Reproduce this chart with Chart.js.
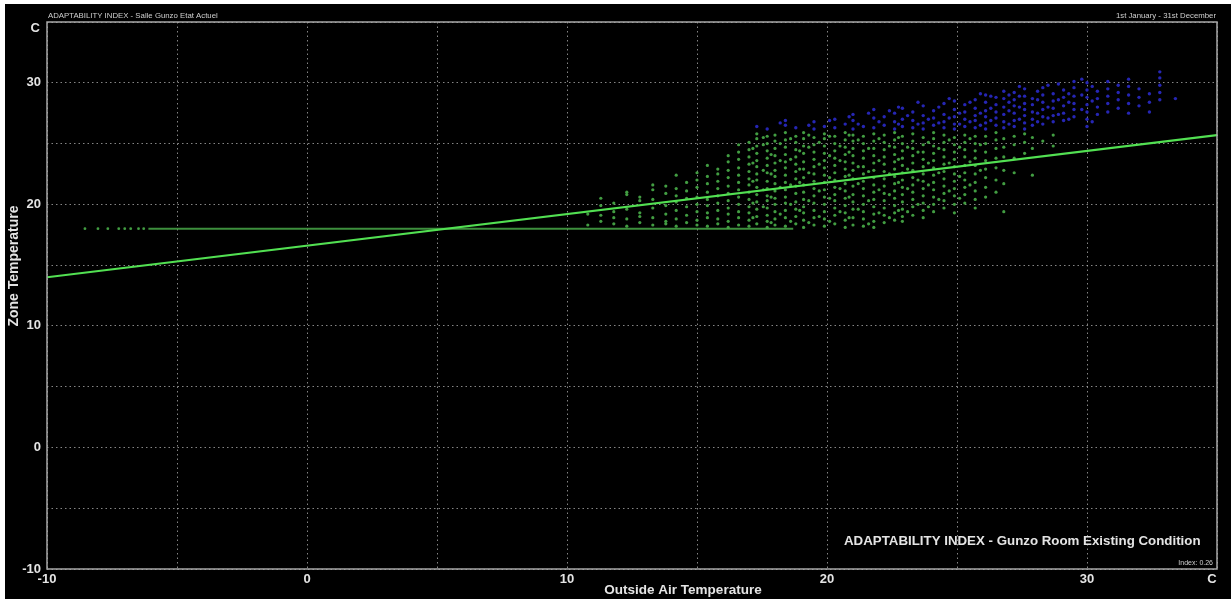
<!DOCTYPE html>
<html>
<head>
<meta charset="utf-8">
<script src="https://cdn.jsdelivr.net/npm/chart.js@4/dist/chart.umd.min.js"></script>
<style>
  html, body { margin: 0; padding: 0; background: #fff; }
  #wrap { position: absolute; left: 5px; top: 4px; width: 1226px; height: 595px; background: #000; }
</style>
</head>
<body>
<div id="wrap"><canvas id="chart"></canvas></div>
<script>
// axis ranges and tick labels
const xMin = -10, xMax = 35;
const yMin = -10, yMax = 35;
const tickStep = 5;
const labelStep = 10;
const axisUnit = 'C';

// texts
const chartTitle = 'ADAPTABILITY INDEX - Salle Gunzo Etat Actuel';
const period = '1st January - 31st December';
const caption = 'ADAPTABILITY INDEX - Gunzo Room Existing Condition';
const indexText = 'Index: 0.26';
const xTitle = 'Outside Air Temperature';
const yTitle = 'Zone Temperature';

// regression line (ends)
const regX = [-10, 35];
const regY = [14.0, 25.7];

// heating floor at 18 C: sparse cold points, then a continuous run
const floorY = 18;
const floorDotsX = [-8.54, -8.04, -7.66, -7.24, -7.01, -6.78, -6.48, -6.28];
const floorRunX = [-6.1, 18.7];

// green points (zone temp up to ~26), by outside temp column: [x, [y...]]
const greenCols = [
  [10.8, [18.3, 19.2]],
  [11.3, [18.6, 19.9, 20.5, 19.1]],
  [11.8, [18.4, 19.4, 20.1, 18.9]],
  [12.3, [18.2, 18.8, 19.6, 20.8, 21.0]],
  [12.8, [18.5, 19.3, 20.3, 19.0, 20.6]],
  [13.3, [18.3, 18.9, 19.7, 20.4, 21.2, 21.6]],
  [13.8, [18.6, 19.2, 19.9, 20.9, 18.4, 21.5]],
  [14.2, [18.2, 18.8, 19.5, 20.2, 20.7, 21.3, 22.4]],
  [14.6, [18.5, 19.1, 19.8, 20.5, 21.1, 21.8]],
  [15.0, [18.3, 18.7, 19.4, 20.0, 20.6, 21.4, 22.0, 22.6]],
  [15.4, [18.2, 18.9, 19.3, 19.9, 20.4, 21.0, 21.7, 22.3, 23.2]],
  [15.8, [18.4, 18.8, 19.5, 20.1, 20.7, 21.3, 21.9, 22.5, 22.9]],
  [16.2, [18.1, 18.6, 19.2, 19.7, 20.3, 20.9, 21.5, 22.2, 22.8, 23.5, 24.0]],
  [16.6, [18.3, 18.9, 19.4, 20.0, 20.6, 21.2, 21.8, 22.4, 23.0, 23.7, 24.3, 24.9]],
  [17.0, [18.2, 18.7, 19.3, 19.8, 20.4, 21.0, 21.6, 22.1, 22.7, 23.3, 23.9, 24.5, 25.1]],
  [17.15, [18.9, 20.1, 21.9, 23.4, 24.6]],
  [17.3, [18.4, 19.0, 19.6, 20.2, 20.8, 21.4, 22.0, 22.5, 23.1, 23.6, 24.2, 24.8, 25.4, 25.8]],
  [17.55, [19.8, 21.2, 22.8, 24.9, 25.5]],
  [17.7, [18.1, 18.6, 19.1, 19.7, 20.3, 20.7, 21.3, 21.9, 22.6, 23.2, 23.8, 24.4, 25.0, 25.6]],
  [17.85, [18.5, 20.6, 22.5, 24.1]],
  [18.0, [18.3, 18.8, 19.4, 20.0, 20.5, 21.1, 21.7, 22.3, 22.8, 23.4, 24.0, 24.6, 25.2, 25.7]],
  [18.2, [19.2, 21.4, 23.6, 25.0]],
  [18.4, [18.2, 18.9, 19.5, 20.1, 20.6, 21.2, 21.8, 22.4, 23.0, 23.5, 24.1, 24.7, 25.3, 25.9]],
  [18.6, [18.6, 20.0, 21.6, 23.7, 25.4]],
  [18.8, [18.4, 19.0, 19.6, 20.2, 20.9, 21.5, 22.1, 22.7, 23.3, 23.9, 24.5, 25.1, 25.6]],
  [18.95, [19.5, 21.8, 22.9, 24.4]],
  [19.1, [18.1, 18.7, 19.3, 19.8, 20.4, 21.0, 21.6, 22.2, 22.9, 23.5, 24.2, 24.8, 25.4, 25.9]],
  [19.3, [18.5, 20.3, 22.6, 24.7, 25.7]],
  [19.5, [18.3, 18.9, 19.5, 20.1, 20.7, 21.3, 21.9, 22.5, 23.1, 23.7, 24.3, 24.9, 25.5]],
  [19.7, [19.0, 21.1, 23.3, 25.1]],
  [19.9, [18.2, 18.8, 19.4, 20.0, 20.6, 21.2, 21.8, 22.4, 23.0, 23.6, 24.2, 24.8, 25.4, 25.8]],
  [20.1, [18.6, 20.5, 22.2, 24.0, 25.6]],
  [20.3, [18.4, 19.1, 19.7, 20.3, 20.8, 21.4, 22.0, 22.6, 23.2, 23.8, 24.4, 25.0, 25.6]],
  [20.5, [19.4, 21.3, 23.6, 24.8]],
  [20.7, [18.1, 18.7, 19.3, 19.9, 20.5, 21.1, 21.7, 22.3, 22.9, 23.5, 24.1, 24.7, 25.3, 25.9]],
  [20.85, [18.9, 20.6, 22.4, 24.3, 25.7]],
  [21.0, [18.3, 18.9, 19.6, 20.2, 20.8, 21.5, 22.1, 22.8, 23.4, 24.0, 24.6, 25.2, 25.7]],
  [21.2, [19.6, 21.7, 23.1, 25.3]],
  [21.4, [18.2, 18.8, 19.4, 20.0, 20.7, 21.3, 21.9, 22.5, 23.1, 23.8, 24.4, 25.0, 25.6]],
  [21.6, [18.4, 20.3, 22.7, 24.6]],
  [21.8, [18.1, 18.6, 19.2, 19.8, 20.4, 21.0, 21.6, 22.2, 22.8, 23.4, 24.0, 24.6, 25.2, 25.8]],
  [22.0, [19.3, 21.2, 23.6, 25.4]],
  [22.2, [18.5, 19.1, 19.7, 20.3, 20.9, 21.5, 22.1, 22.7, 23.3, 23.9, 24.5, 25.1, 25.7]],
  [22.4, [18.9, 20.8, 22.5, 24.8]],
  [22.6, [18.7, 19.3, 19.9, 20.5, 21.1, 21.7, 22.3, 22.9, 23.5, 24.1, 24.7, 25.3, 25.9]],
  [22.75, [19.5, 21.8, 23.7, 25.5]],
  [22.9, [18.6, 19.0, 19.6, 20.2, 20.8, 21.4, 22.0, 22.6, 23.2, 23.8, 24.4, 25.0, 25.6]],
  [23.1, [19.4, 21.3, 22.9, 24.7]],
  [23.3, [19.1, 19.8, 20.4, 21.0, 21.6, 22.2, 22.8, 23.4, 24.0, 24.6, 25.2, 25.8]],
  [23.5, [20.0, 22.0, 24.3]],
  [23.7, [18.9, 19.5, 20.1, 20.7, 21.3, 21.9, 22.5, 23.1, 23.7, 24.3, 24.9, 25.5]],
  [23.9, [19.8, 21.6, 23.4, 25.1]],
  [24.1, [19.4, 20.0, 20.6, 21.2, 21.8, 22.4, 23.0, 23.6, 24.2, 24.8, 25.4, 25.9]],
  [24.3, [20.4, 22.6, 24.6]],
  [24.5, [19.7, 20.3, 20.9, 21.5, 22.1, 22.7, 23.3, 23.9, 24.5, 25.1, 25.7]],
  [24.7, [21.1, 23.4, 25.3]],
  [24.9, [19.3, 20.0, 20.7, 21.3, 21.9, 22.5, 23.1, 23.7, 24.3, 24.9, 25.5]],
  [25.1, [20.5, 22.3, 24.7]],
  [25.3, [20.1, 20.8, 21.4, 22.0, 22.6, 23.2, 23.9, 24.5, 25.1, 25.7]],
  [25.5, [21.6, 23.5, 25.4]],
  [25.7, [19.7, 20.4, 21.1, 21.8, 22.5, 23.2, 23.8, 24.4, 25.0, 25.6]],
  [25.9, [22.8, 24.9]],
  [26.1, [20.6, 21.4, 22.2, 22.9, 23.6, 24.3, 25.0, 25.6]],
  [26.5, [21.0, 22.0, 23.0, 23.8, 24.6, 25.3, 25.9]],
  [26.8, [19.4, 21.7, 22.8, 23.9, 24.7, 25.4]],
  [27.2, [22.6, 23.8, 24.9, 25.6]],
  [27.6, [24.2, 25.1, 25.8]],
  [27.9, [22.4, 24.6, 25.5]],
  [28.3, [25.2]],
  [28.7, [24.8, 25.7]]
];

// blue points (zone temp above ~26): [x, [y...]]
const blueCols = [
  [17.3, [26.4]],
  [17.7, [26.2]],
  [18.2, [26.7]],
  [18.4, [26.5, 26.9]],
  [18.8, [26.3]],
  [19.3, [26.5]],
  [19.5, [26.2, 26.8]],
  [19.9, [26.4]],
  [20.1, [26.9]],
  [20.3, [26.3, 27.0]],
  [20.7, [26.6]],
  [20.85, [27.2]],
  [21.0, [26.2, 26.9, 27.4]],
  [21.2, [26.6]],
  [21.4, [26.4]],
  [21.6, [27.5]],
  [21.8, [26.3, 27.1, 27.8]],
  [22.0, [26.8]],
  [22.2, [26.5, 27.2]],
  [22.4, [27.7]],
  [22.6, [26.2, 26.8, 27.5]],
  [22.75, [26.6, 28.0]],
  [22.9, [26.4, 27.0, 27.9]],
  [23.1, [27.3]],
  [23.3, [26.3, 26.9, 27.6]],
  [23.5, [26.6, 28.4]],
  [23.7, [26.2, 26.7, 27.3, 28.1]],
  [23.9, [27.0]],
  [24.1, [26.5, 27.1, 27.7]],
  [24.3, [26.7, 28.0]],
  [24.5, [26.3, 26.8, 27.4, 28.3]],
  [24.7, [27.1, 28.7]],
  [24.9, [26.2, 26.6, 27.2, 27.8, 28.5]],
  [25.1, [26.6, 27.5]],
  [25.3, [26.4, 27.0, 27.6, 28.2]],
  [25.5, [26.8, 28.4]],
  [25.7, [26.3, 26.9, 27.3, 27.9, 28.6]],
  [25.9, [26.5, 27.5, 29.1]],
  [26.1, [26.2, 26.7, 27.2, 27.7, 28.4, 29.0]],
  [26.3, [26.9, 27.9, 28.9]],
  [26.5, [26.5, 27.1, 27.6, 28.2, 28.8]],
  [26.8, [26.3, 26.8, 27.4, 28.0, 28.7, 29.3]],
  [27.0, [26.6, 27.7, 28.4, 29.0]],
  [27.2, [26.4, 26.9, 27.5, 28.1, 28.6, 29.2]],
  [27.4, [27.0, 28.0, 28.9, 29.7]],
  [27.6, [26.2, 26.7, 27.3, 27.8, 28.3, 28.9, 29.5]],
  [27.9, [26.5, 27.0, 27.6, 28.2, 28.7]],
  [28.1, [26.8, 27.5, 28.6, 29.3]],
  [28.3, [26.6, 27.2, 27.8, 28.4, 29.0, 29.6]],
  [28.5, [27.1, 28.0, 29.8]],
  [28.7, [26.8, 27.3, 27.9, 28.5, 29.1]],
  [28.9, [27.4, 28.6, 29.9]],
  [29.1, [26.9, 27.5, 28.1, 28.8, 29.4]],
  [29.3, [27.0, 28.4, 29.1]],
  [29.5, [27.2, 27.8, 28.3, 28.9, 29.6, 30.1]],
  [29.8, [27.8, 29.0, 30.3]],
  [30.0, [26.4, 27.0, 27.6, 28.2, 28.8, 29.4, 30.0]],
  [30.2, [26.8, 28.5, 29.7]],
  [30.4, [27.4, 28.0, 28.7, 29.3]],
  [30.8, [27.6, 28.3, 28.9, 29.5, 30.1]],
  [31.2, [27.9, 28.6, 29.2, 29.8]],
  [31.6, [27.5, 28.3, 29.0, 29.7, 30.3]],
  [32.0, [28.1, 28.8, 29.5]],
  [32.4, [27.6, 28.4, 29.1]],
  [32.8, [28.6, 29.2, 29.8, 30.4, 30.9]],
  [33.4, [28.7]]
];

// colours
const textColor = '#e4e4e4';
const gridColor = 'rgba(190,190,190,0.7)';
const frameColor = '#a8a8a8';
const greenDot = 'rgba(70,165,70,0.95)';
const blueDot = '#2626b4';
const regColor = '#52e052';

function toPoints(cols) {
  const pts = [];
  cols.forEach(c => c[1].forEach(y => pts.push({ x: c[0], y: y })));
  return pts;
}

const font = 'Arial, "Liberation Sans", sans-serif';

// extra texts, frame and unit labels
const decor = {
  id: 'decor',
  afterDraw(chart) {
    const ctx = chart.ctx;
    const a = chart.chartArea;
    ctx.save();
    ctx.strokeStyle = frameColor;
    ctx.lineWidth = 1.5;
    ctx.strokeRect(a.left, a.top, a.right - a.left, a.bottom - a.top);

    ctx.fillStyle = '#cfcfcf';
    ctx.font = '7.8px ' + font;
    ctx.textBaseline = 'alphabetic';
    ctx.textAlign = 'left';
    ctx.fillText(chartTitle, a.left + 1, a.top - 4);
    ctx.textAlign = 'right';
    ctx.fillText(period, a.right - 1, a.top - 4);
    ctx.font = '7px ' + font;
    ctx.textBaseline = 'middle';
    ctx.fillText(indexText, a.right - 4, a.bottom - 6);

    ctx.fillStyle = textColor;
    ctx.font = 'bold 13.3px ' + font;
    ctx.textAlign = 'left';
    ctx.fillText(caption, 839, 537);

    ctx.font = 'bold 13.5px ' + font;
    ctx.textAlign = 'center';
    ctx.fillText(xTitle, 678, 586);
    ctx.font = 'bold 14px ' + font;
    ctx.save();
    ctx.translate(9, 262);
    ctx.rotate(-Math.PI / 2);
    ctx.fillText(yTitle, 0, 0);
    ctx.restore();

    ctx.font = 'bold 13px ' + font;
    ctx.textAlign = 'right';
    ctx.fillText(axisUnit, a.left - 7, a.top + 6);
    ctx.textAlign = 'center';
    ctx.fillText(axisUnit, a.right - 5, a.bottom + 10);
    ctx.restore();
  }
};

const tickLabel = v => (v % labelStep === 0 ? String(v) : '');

new Chart(document.getElementById('chart'), {
  type: 'scatter',
  data: {
    datasets: [
      {
        label: 'regression',
        data: regX.map((x, i) => ({ x: x, y: regY[i] })),
        showLine: true,
        borderColor: regColor,
        borderWidth: 2.2,
        pointRadius: 0,
        order: 0
      },
      {
        label: 'floor run',
        data: floorRunX.map(x => ({ x: x, y: floorY })),
        showLine: true,
        borderColor: 'rgba(72,168,72,0.85)',
        borderWidth: 2,
        pointRadius: 0,
        order: 1
      },
      {
        label: 'floor dots',
        data: floorDotsX.map(x => ({ x: x, y: floorY })),
        backgroundColor: greenDot,
        pointRadius: 1.4,
        pointBorderWidth: 0,
        order: 1
      },
      {
        label: 'green',
        data: toPoints(greenCols),
        backgroundColor: greenDot,
        pointRadius: 1.6,
        pointBorderWidth: 0,
        order: 2
      },
      {
        label: 'blue',
        data: toPoints(blueCols),
        backgroundColor: blueDot,
        pointRadius: 1.7,
        pointBorderWidth: 0,
        order: 2
      }
    ]
  },
  options: {
    responsive: true,
    maintainAspectRatio: false,
    animation: false,
    layout: { padding: { left: 0, right: 14, top: 18, bottom: 0 } },
    plugins: {
      legend: { display: false },
      tooltip: { enabled: false }
    },
    scales: {
      x: {
        type: 'linear',
        min: xMin,
        max: xMax,
        afterFit: s => { s.height = 30; },
        ticks: {
          stepSize: tickStep,
          autoSkip: false,
          maxRotation: 0,
          padding: 3,
          color: textColor,
          font: { family: font, size: 13, weight: 'bold' },
          callback: tickLabel
        },
        grid: { color: gridColor, lineWidth: 1, drawTicks: false },
        border: { display: false, dash: [1.5, 3] }
      },
      y: {
        type: 'linear',
        min: yMin,
        max: yMax,
        afterFit: s => { s.width = 42; },
        ticks: {
          stepSize: tickStep,
          autoSkip: false,
          padding: 6,
          color: textColor,
          font: { family: font, size: 13, weight: 'bold' },
          callback: tickLabel
        },
        grid: { color: gridColor, lineWidth: 1, drawTicks: false },
        border: { display: false, dash: [1.5, 3] }
      }
    }
  },
  plugins: [decor]
});
</script>
</body>
</html>
